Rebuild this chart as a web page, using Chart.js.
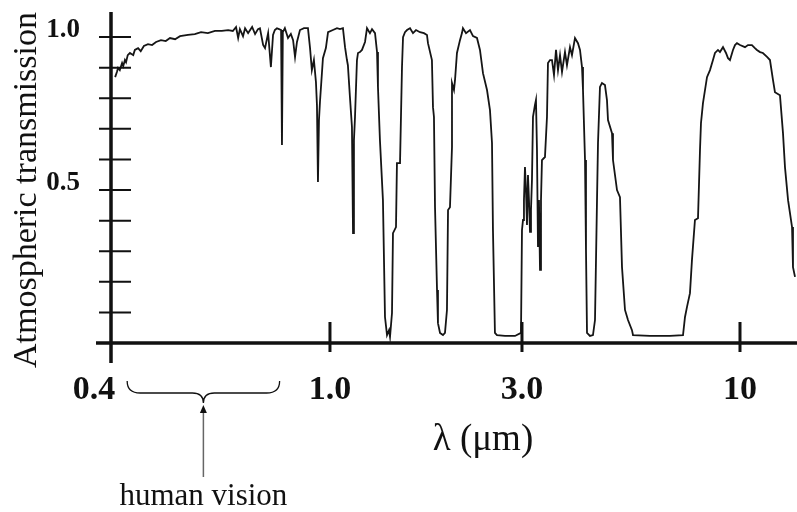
<!DOCTYPE html>
<html>
<head>
<meta charset="utf-8">
<script src="https://cdn.jsdelivr.net/npm/chart.js@4.4.1/dist/chart.umd.min.js"></script>
<style>
  html, body { margin: 0; padding: 0; background: #fff; }
  canvas { display: block; }
</style>
</head>
<body>
<canvas id="transmissionChart" width="797" height="512"></canvas>
<script>
// Atmospheric transmission vs wavelength
const wavelength = [
  0.407, 0.410, 0.412, 0.415, 0.419, 0.421, 0.424, 0.426, 0.429, 0.433,
  0.439, 0.442, 0.448, 0.453, 0.459, 0.467, 0.475, 0.483, 0.493, 0.503,
  0.512, 0.523, 0.534, 0.552, 0.568, 0.583, 0.600, 0.618, 0.636, 0.653,
  0.666, 0.675, 0.681, 0.686, 0.695, 0.701, 0.710, 0.716, 0.722, 0.731,
  0.740, 0.746, 0.756, 0.762, 0.772, 0.781, 0.788, 0.794, 0.801, 0.808,
  0.815, 0.818, 0.821, 0.828, 0.839, 0.849, 0.857, 0.864, 0.871, 0.882,
  0.897, 0.912, 0.920, 0.927, 0.935, 0.943, 0.947, 0.951, 0.955, 0.959,
  0.971, 0.983, 0.992,
  1.017, 1.041, 1.059, 1.077, 1.090, 1.102, 1.108, 1.121, 1.134, 1.141,
  1.147, 1.154, 1.167, 1.174, 1.187, 1.201, 1.222, 1.236, 1.257, 1.272,
  1.294, 1.309, 1.316, 1.331, 1.354, 1.370, 1.386, 1.402, 1.410, 1.426,
  1.434, 1.459, 1.467, 1.493, 1.510, 1.519, 1.536, 1.554, 1.581, 1.608,
  1.636, 1.674, 1.712, 1.742, 1.752, 1.792, 1.803, 1.813, 1.824, 1.845,
  1.855, 1.877, 1.909, 1.931, 1.953, 1.965, 1.987, 2.010, 2.010, 2.033,
  2.045, 2.068, 2.104, 2.128, 2.140, 2.178, 2.228, 2.267, 2.319, 2.359,
  2.400, 2.456, 2.498, 2.527, 2.541, 2.570, 2.600, 2.722, 2.882, 2.983,
  3.000, 3.017, 3.033, 3.050, 3.067, 3.084, 3.101, 3.118, 3.136, 3.153,
  3.170, 3.188, 3.223, 3.241, 3.259, 3.277, 3.295, 3.314, 3.332, 3.350,
  3.406, 3.444, 3.463, 3.502, 3.541, 3.580, 3.620, 3.660, 3.701, 3.742,
  3.804, 3.846, 3.911, 3.954, 4.020, 4.087, 4.133, 4.179, 4.202, 4.249,
  4.272, 4.296, 4.367, 4.440, 4.490, 4.540, 4.565, 4.615, 4.666, 4.744,
  4.797, 4.824, 4.932, 4.959, 5.070, 5.154, 5.212, 5.299, 5.387, 5.507,
  5.538, 6.083, 6.793, 7.300, 7.381, 7.463, 7.586, 7.670, 7.798, 7.930,
  8.018, 8.062, 8.151, 8.334, 8.473, 8.614, 8.710, 8.855, 8.952, 9.104,
  9.256, 9.359, 9.462, 9.620, 9.728, 9.833, 10.00, 10.28, 10.45, 10.68,
  10.86, 10.98, 11.17, 11.35, 11.61, 11.80, 12.00, 12.13, 12.47, 12.68,
  12.82, 13.04, 13.33, 13.40, 13.55
];
const transmission = [
  0.869, 0.886, 0.899, 0.892, 0.915, 0.905, 0.925, 0.918, 0.941, 0.948,
  0.941, 0.958, 0.964, 0.954, 0.971, 0.977, 0.974, 0.984, 0.990, 0.987,
  0.997, 0.993, 1.003, 1.007, 1.010, 1.016, 1.013, 1.020, 1.020, 1.023,
  1.020, 1.033, 0.997, 1.026, 1.003, 1.029, 1.013, 1.023, 1.033, 1.010,
  1.026, 1.029, 0.974, 0.964, 1.013, 0.902, 1.007, 1.023, 1.029, 1.026,
  1.023, 0.647, 1.016, 1.029, 0.997, 1.010, 0.990, 0.935, 0.984, 1.023,
  1.029, 1.029, 0.964, 0.892, 0.925, 0.853, 0.778, 0.526, 0.729, 0.788,
  0.931, 0.964, 1.016,
  1.023, 1.029, 1.026, 1.029, 0.967, 0.925, 0.908, 0.804, 0.706, 0.359,
  0.663, 0.739, 0.925, 0.948, 0.951, 0.958, 0.984, 1.029, 1.013, 1.026,
  1.013, 0.951, 0.837, 0.663, 0.467, 0.085, 0.026, 0.042, 0.020, 0.098,
  0.359, 0.379, 0.588, 0.588, 0.902, 1.000, 1.016, 1.023, 1.029, 1.013,
  1.023, 1.016, 1.013, 1.007, 0.980, 0.925, 0.771, 0.739, 0.444, 0.173,
  0.065, 0.033, 0.026, 0.033, 0.108, 0.435, 0.444, 0.641, 0.850, 0.827,
  0.859, 0.948, 0.990, 1.013, 1.029, 1.013, 1.023, 1.003, 0.997, 0.958,
  0.882, 0.827, 0.761, 0.654, 0.369, 0.033, 0.026, 0.023, 0.023, 0.033,
  0.369, 0.402, 0.467, 0.575, 0.500, 0.386, 0.549, 0.467, 0.363, 0.435,
  0.533, 0.739, 0.778, 0.794, 0.631, 0.314, 0.467, 0.239, 0.467, 0.598,
  0.608, 0.739, 0.915, 0.925, 0.925, 0.876, 0.958, 0.892, 0.941, 0.886,
  0.951, 0.908, 0.967, 0.941, 0.997, 0.980, 0.958, 0.902, 0.827, 0.598,
  0.304, 0.033, 0.023, 0.026, 0.075, 0.467, 0.654, 0.837, 0.850, 0.843,
  0.794, 0.729, 0.686, 0.598, 0.500, 0.477, 0.248, 0.108, 0.075, 0.042,
  0.026, 0.023, 0.023, 0.026, 0.085, 0.118, 0.163, 0.271, 0.402, 0.408,
  0.631, 0.719, 0.784, 0.869, 0.892, 0.925, 0.948, 0.958, 0.951, 0.967,
  0.948, 0.931, 0.925, 0.958, 0.974, 0.980, 0.974, 0.967, 0.974, 0.974,
  0.964, 0.958, 0.951, 0.948, 0.935, 0.925, 0.859, 0.820, 0.810, 0.686,
  0.575, 0.467, 0.379, 0.248, 0.216
];

const xTicks = [0.4, 1.0, 3.0, 10];
// the first label sits left of its tick in the figure; the em space nudges it over
const xTickLabels = ['0.4\u2003', '1.0', '3.0', '10'];
const yTicks = [0, 0.1, 0.2, 0.3, 0.4, 0.5, 0.6, 0.7, 0.8, 0.9, 1.0];
const yTickLabels = ['', '', '', '', '', '0.5', '', '', '', '', '1.0'];
const visionBand = [0.428, 0.81];   // wavelength span marked by the brace

const SERIF = '"Liberation Serif", "Times New Roman", serif';

// The figure's wavelength axis is log-like but not evenly spaced between its
// labels, so this scale interpolates log(λ) piecewise between anchor wavelengths.
class WarpedLogScale extends Chart.LinearScale {
  static id = 'warpedLog';
  static defaults = {};

  toFraction(v) {
    const vals = this.options.anchorValues;
    const fr = this.options.anchorFractions;
    let i = 0;
    while (i < vals.length - 2 && v > vals[i + 1]) i++;
    const t = Math.log(v / vals[i]) / Math.log(vals[i + 1] / vals[i]);
    return fr[i] + t * (fr[i + 1] - fr[i]);
  }

  fromFraction(d) {
    const vals = this.options.anchorValues;
    const fr = this.options.anchorFractions;
    let i = 0;
    while (i < fr.length - 2 && d > fr[i + 1]) i++;
    const t = (d - fr[i]) / (fr[i + 1] - fr[i]);
    return vals[i] * Math.pow(vals[i + 1] / vals[i], t);
  }

  getPixelForValue(v) {
    return this.getPixelForDecimal(this.toFraction(v));
  }

  getValueForPixel(p) {
    return this.fromFraction(this.getDecimalForPixel(p));
  }
}
Chart.register(WarpedLogScale);

// Axis lines with ticks crossing them, titles and the "human vision" brace
const axesAndNotes = {
  id: 'axesAndNotes',
  afterDatasetsDraw(chart) {
    const { ctx, chartArea } = chart;
    const xs = chart.scales.x, ys = chart.scales.y;
    const x0 = xs.getPixelForValue(xTicks[0]);
    const y0 = ys.getPixelForValue(0);

    ctx.save();
    ctx.strokeStyle = '#111';
    ctx.lineCap = 'butt';

    // baseline and vertical axis
    ctx.lineWidth = 3.5;
    ctx.beginPath();
    ctx.moveTo(x0 - 15, y0);
    ctx.lineTo(chart.width, y0);
    ctx.moveTo(x0, chartArea.top);
    ctx.lineTo(x0, y0 + 20);
    ctx.stroke();

    // y ticks
    ctx.lineWidth = 2;
    ctx.beginPath();
    yTicks.forEach(v => {
      const py = ys.getPixelForValue(v);
      ctx.moveTo(x0 - 12, py);
      ctx.lineTo(x0 + 20, py);
    });
    ctx.stroke();

    // x ticks
    ctx.lineWidth = 3;
    ctx.beginPath();
    xTicks.slice(1).forEach(v => {
      const px = xs.getPixelForValue(v);
      ctx.moveTo(px, y0 - 21);
      ctx.lineTo(px, y0 + 9);
    });
    ctx.stroke();

    // axis titles
    ctx.fillStyle = '#111';
    ctx.textAlign = 'center';
    ctx.textBaseline = 'alphabetic';
    ctx.font = '37px ' + SERIF;
    ctx.fillText('λ (μm)', 483, 450);

    ctx.save();
    ctx.translate(36, 190);
    ctx.rotate(-Math.PI / 2);
    ctx.font = '34px ' + SERIF;
    ctx.fillText('Atmospheric transmission', 0, 0);
    ctx.restore();

    // brace under the visible band
    const b0 = xs.getPixelForValue(visionBand[0]);
    const b1 = xs.getPixelForValue(visionBand[1]);
    const bm = (b0 + b1) / 2;
    const top = y0 + 38, mid = y0 + 50, tip = y0 + 60;
    ctx.lineWidth = 1.3;
    ctx.beginPath();
    ctx.moveTo(b0, top);
    ctx.quadraticCurveTo(b0, mid, b0 + 13, mid);
    ctx.lineTo(bm - 11, mid);
    ctx.quadraticCurveTo(bm, mid, bm, tip);
    ctx.quadraticCurveTo(bm, mid, bm + 11, mid);
    ctx.lineTo(b1 - 13, mid);
    ctx.quadraticCurveTo(b1, mid, b1, top);
    ctx.stroke();

    // arrow from the label up to the brace
    ctx.strokeStyle = '#666';
    ctx.lineWidth = 1.5;
    ctx.beginPath();
    ctx.moveTo(bm, y0 + 134);
    ctx.lineTo(bm, tip + 6);
    ctx.stroke();
    ctx.fillStyle = '#111';
    ctx.beginPath();
    ctx.moveTo(bm, tip + 2);
    ctx.lineTo(bm - 3.5, tip + 10);
    ctx.lineTo(bm + 3.5, tip + 10);
    ctx.closePath();
    ctx.fill();

    ctx.font = '31px ' + SERIF;
    ctx.fillText('human vision', bm, 505);
    ctx.restore();
  }
};

const points = wavelength.map((w, i) => ({ x: w, y: transmission[i] }));

new Chart(document.getElementById('transmissionChart'), {
  type: 'line',
  data: {
    datasets: [{
      label: 'Atmospheric transmission',
      data: points,
      borderColor: '#151515',
      borderWidth: 1.8,
      pointRadius: 0,
      tension: 0,
      fill: false
    }]
  },
  options: {
    responsive: false,
    animation: false,
    events: [],
    layout: { padding: { top: 12, left: 0, right: 0, bottom: 0 } },
    plugins: {
      legend: { display: false },
      tooltip: { enabled: false }
    },
    scales: {
      x: {
        type: 'warpedLog',
        min: 0.4,
        max: 13.7,
        anchorValues: [0.4, 1.0, 3.0, 13.7],
        anchorFractions: [0, 0.3192, 0.5991, 1],
        grid: { display: false },
        border: { display: false },
        afterBuildTicks: s => { s.ticks = xTicks.map(v => ({ value: v })); },
        afterFit: s => { s.height = 169; s.paddingLeft = 0; s.paddingRight = 0; },
        ticks: {
          autoSkip: false,
          maxRotation: 0,
          padding: 19,
          color: '#111',
          font: { family: SERIF, size: 34, weight: 'bold' },
          callback: (v, i) => xTickLabels[i]
        }
      },
      y: {
        min: 0,
        max: 1.082,
        grid: { display: false },
        border: { display: false },
        afterBuildTicks: s => { s.ticks = yTicks.map(v => ({ value: v })); },
        afterFit: s => { s.width = 111; s.paddingTop = 0; s.paddingBottom = 0; },
        ticks: {
          autoSkip: false,
          padding: 23,
          labelOffset: -7,
          color: '#111',
          font: { family: SERIF, size: 27, weight: 'bold' },
          callback: (v, i) => yTickLabels[i]
        }
      }
    }
  },
  plugins: [axesAndNotes]
});
</script>
</body>
</html>
